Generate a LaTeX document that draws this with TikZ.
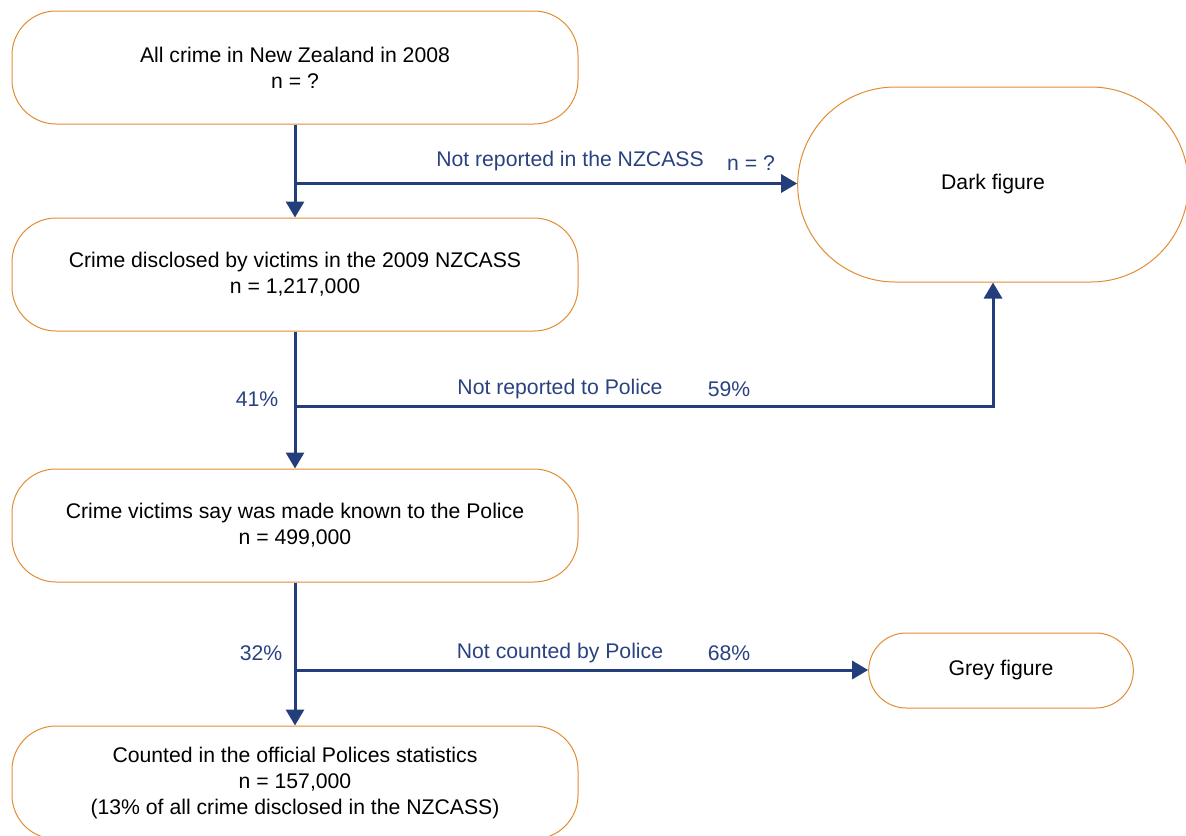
\documentclass[tikz,border=0pt]{standalone}
\usepackage{fontspec}
\setmainfont{Liberation Sans}
\usetikzlibrary{
    shapes.misc,
    arrows.meta,
    positioning
}
\definecolor{bordeNaranja}{RGB}{226, 140, 52}
\definecolor{azulFlecha}{RGB}{35, 62, 122}
\definecolor{textoAzul}{RGB}{42, 66, 128}
\tikzset{
    etapaCaja/.style={
        rectangle, rounded corners=22pt,
        draw=bordeNaranja, line width=0.5pt, fill=white,
        minimum width=283pt, minimum height=56.5pt,
        align=center, font=\fontsize{10.6}{13}\selectfont, text=black
    },
    figuraCaja/.style={
        rounded rectangle,
        draw=bordeNaranja, line width=0.5pt, fill=white,
        align=center, font=\fontsize{10.6}{13}\selectfont, text=black
    },
    flechaAzul/.style={
        -{Triangle[length=8pt,width=9pt]},
        line width=1.5pt, color=azulFlecha
    },
    etiquetaAzul/.style={
        font=\fontsize{10.6}{13}\selectfont, text=textoAzul, inner sep=1pt
    },
}
\begin{document}
\begin{tikzpicture}[x=0.5pt, y=-0.5pt]
    \useasboundingbox (0,0) rectangle (1186,835);

    % ----------------------------------------------------------
    % CAJAS — eje central en x = 295 (coordenadas en pixeles)
    % ----------------------------------------------------------
    \node[etapaCaja] at (295,  67.5) (allCrime)  {All crime in New Zealand in 2008\\n = ?};
    \node[etapaCaja] at (295, 274.5) (disclosed) {Crime disclosed by victims in the 2009 NZCASS\\n = 1,217,000};
    \node[etapaCaja] at (295, 525.5) (known)     {Crime victims say was made known to the Police\\n = 499,000};
    \node[etapaCaja] at (295, 782.5) (counted)   {Counted in the official Polices statistics\\n = 157,000\\(13\% of all crime disclosed in the NZCASS)};

    % Figuras a la derecha
    \node[figuraCaja, minimum width=202pt, minimum height=97.5pt]
        at (993, 184.5) (darkFig) {Dark figure};
    \node[figuraCaja, minimum width=139pt, minimum height=37.5pt]
        at (1001, 670.5) (greyFig) {Grey figure};

    % ----------------------------------------------------------
    % PUNTOS DE BIFURCACIÓN
    % ----------------------------------------------------------
    \coordinate (split1) at (295, 183.5);
    \coordinate (split2) at (295, 406);
    \coordinate (split3) at (295, 670);

    % ----------------------------------------------------------
    % FLECHAS EJE CENTRAL
    % ----------------------------------------------------------
    \draw[flechaAzul] (allCrime)  -- (disclosed);
    \draw[flechaAzul] (disclosed) -- (known);
    \draw[flechaAzul] (known)     -- (counted);

    % ----------------------------------------------------------
    % RAMAS HACIA LA DERECHA
    % ----------------------------------------------------------
    \draw[flechaAzul] (split1) -- (split1 -| darkFig.west);
    \draw[flechaAzul] (split2) -| (darkFig.south);
    \draw[flechaAzul] (split3) -- (split3 -| greyFig.west);

    % ----------------------------------------------------------
    % ETIQUETAS
    % ----------------------------------------------------------
    \node[etiquetaAzul] at (570, 161) (lblNzcass)   {Not reported in the NZCASS};
    \node[etiquetaAzul] at (751, 163) (lblNzcassN)  {n = ?};

    \node[etiquetaAzul] at (257, 399) (lblPct41)    {41\%};
    \node[etiquetaAzul] at (560, 389) (lblPolice)   {Not reported to Police};
    \node[etiquetaAzul] at (729, 389) (lblPct59)    {59\%};

    \node[etiquetaAzul] at (261, 653) (lblPct32)    {32\%};
    \node[etiquetaAzul] at (560, 653) (lblCounted)  {Not counted by Police};
    \node[etiquetaAzul] at (729, 653) (lblPct68)    {68\%};

\end{tikzpicture}
\end{document}
